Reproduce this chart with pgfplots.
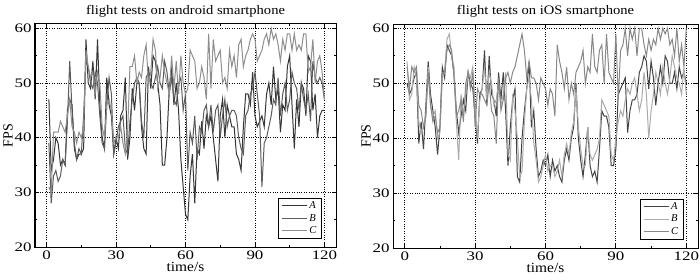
\documentclass[border=0pt]{standalone}
\usepackage{pgfplots}
\pgfplotsset{compat=1.18}
\usepackage{pgfplotstable}
\usepackage{graphicx}
\usepackage{fontspec}
\setmainfont{Liberation Serif}

\pgfplotstableread{
t A B C
1 47 39 31
2 34 28 30
3 36 33 41
4 40 34 41
5 39 32 41
6 35 33 43
7 36 36 42
8 35 35 41
9 45 43 44
10 47 54 47
11 46 45 42
12 38 39 41
13 36 36 39
14 37 38 41
15 37 37 40
16 38 44 42
17 58 54 56
18 50 53 53
19 49 50 51
20 54 49 52
21 47 52 48
22 58 50 52
23 46 44 50
24 40 39 42
25 38 38 40
26 51 46 46
27 46 51 47
28 44 48 45
29 37 37 39
30 40 39 40
31 38 42 40
32 44 43 42
33 45 44 39
34 51 38 37
35 36 37 41
36 40 43 53
37 49 47 53
38 45 50 55
39 50 51 50
40 50 50 52
41 42 43 51
42 38 40 55
43 37 51 57
44 53 52 50
45 49 50 52
46 55 49 58
47 54 51 56
48 50 53 49
49 46 50 51
50 35 49 55
51 35 54 52
52 40 52 50
53 49 48 48
54 53 51 55
55 46 47 49
56 50 46 54
57 45 50 48
58 36 51 55
59 31 45 50
60 26 48 48
61 25 34 49
62 33 41 56
63 37 39 55
64 28 44 54
65 38 36 49
66 37 42 50
67 43 41 53
68 38 45 51
69 44 46 47
70 42 42 59
71 44 46 49
72 40 41 58
73 36 45 54
74 32 46 55
75 44 40 56
76 47 44 50
77 40 47 51
78 46 42 49
79 44 44 56
80 42 45 53
81 42 45 55
82 37 44 51
83 36 40 57
84 34 38 58
85 42 37 53
86 48 44 55
87 48 45 56
88 46 48 58
89 52 49 59
90 44 52 58
91 42 48 54
92 43 44 55
93 44 31 56
94 42 39 58
95 48 40 59
96 50 42 57
97 46 44 60
98 53 47 58
99 47 46 59
100 49 51 57
101 41 44 54
102 46 48 58
103 45 50 56
104 53 45 59
105 55 47 59
106 46 52 56
107 38 50 59
108 47 49 56
109 42 45 57
110 50 50 56
111 49 47 59
112 44 45 59
113 55 48 52
114 54 43 53
115 45 54 58
116 48 51 50
117 40 50 54
118 44 51 55
119 45 50 52
120 45 47 47
}\androiddata

\pgfplotstableread{
t A B C
1 50 54 53
2 48 47 49
3 49 48 53
4 51 53 52
5 52 51 53
6 39 43 46
7 43 41 45
8 38 42 42
9 46 44 44
10 54 53 52
11 48 46 46
12 45 44 43
13 42 45 44
14 37 40 41
15 42 41 42
16 53 51 52
17 51 52 52
18 57 58 56
19 56 59 57
20 55 55 56
21 52 53 51
22 45 43 44
23 41 36 45
24 44 48 47
25 47 44 43
26 45 48 50
27 52 52 52
28 50 51 49
29 49 53 52
30 44 46 42
31 39 40 49
32 48 47 48
33 49 49 48
34 56 53 47
35 46 47 46
36 55 52 50
37 48 50 45
38 47 46 44
39 44 47 39
40 52 50 51
41 47 46 45
42 52 48 47
43 45 52 51
44 35 37 52
45 42 36 50
46 47 48 52
47 49 45 53
48 33 40 55
49 32 33 57
50 40 34 59
51 45 43 56
52 49 49 51
53 54 51 54
54 42 47 51
55 45 39 51
56 38 36 50
57 33 32 47
58 34 33 51
59 36 35 50
60 35 37 49
61 37 34 46
62 33 35 49
63 36 35 48
64 34 33 44
65 35 34 57
66 33 36 54
67 32 33 52
68 36 37 49
69 38 39 53
70 36 37 47
71 40 41 50
72 42 43 48
73 50 49 52
74 40 42 53
75 36 38 54
76 33 35 56
77 37 35 50
78 42 42 53
79 35 37 52
80 33 36 59
81 34 37 53
82 32 38 52
83 38 40 56
84 45 47 57
85 44 46 50
86 44 45 59
87 42 44 52
88 35 37 51
89 35 36 50
90 38 40 59
91 48 43 47
92 49 45 56
93 50 44 57
94 51 47 60
95 41 49 55
96 45 48 60
97 47 50 58
98 47 51 60
99 48 48 55
100 52 45 60
101 53 47 60
102 55 52 57
103 54 48 55
104 49 40 58
105 54 45 56
106 51 48 58
107 46 52 57
108 50 50 60
109 53 48 58
110 50 53 60
111 55 50 59
112 54 48 60
113 50 51 57
114 50 55 58
115 52 53 55
116 49 51 60
117 53 50 54
118 51 48 57
119 52 53 53
120 50 48 60
}\iosdata

\definecolor{lA}{HTML}{363636}
\definecolor{lB}{HTML}{5C5C5C}
\definecolor{lC}{HTML}{8E8E8E}
\definecolor{rA}{HTML}{444444}
\definecolor{rB}{HTML}{ABABAB}
\definecolor{rC}{HTML}{888888}

\pgfplotsset{
  panel/.style={
    scale only axis,
    width=301pt, height=223pt,
    xmin=-5, xmax=125, ymin=20, ymax=60.8,
    xtick={0,30,60,90,120}, ytick={20,30,40,50,60},
    minor x tick num=1, minor y tick num=1,
    tick align=inside, major tick length=4pt, minor tick length=2pt,
    xtick pos=both, ytick pos=both,
    grid=major, major grid style={black, dotted, line width=0.9pt},
    axis line style={black, line width=1pt},
    every tick/.style={black, line width=0.8pt},
    xticklabel={\scalebox{1.3}[1]{\pgfmathprintnumber[assume math mode=true]{\tick}}},
    yticklabel={\scalebox{1.3}[1]{\pgfmathprintnumber[assume math mode=true]{\tick}}},
    tick label style={font=\fontsize{13}{14}\selectfont},
    label style={font=\fontsize{14}{15}\selectfont},
    title style={font=\fontsize{13}{14}\selectfont, yshift=-3pt},
    xlabel={\scalebox{1.1}[1]{time/s}}, ylabel={FPS},
    xlabel style={yshift=4pt},
    ylabel style={yshift=-5pt},
    legend cell align=left,
    legend style={draw=black, line width=1pt, font=\fontsize{10.5}{11}\selectfont\itshape,
      at={(rel axis cs:0.953,0.036)}, anchor=south east,
      inner xsep=3pt, inner ysep=1.5pt, row sep=0pt},
    legend image code/.code={\draw[#1, line width=1pt] (0pt,0pt) -- (25pt,0pt);},
  }
}

\begin{document}
\begin{tikzpicture}
\useasboundingbox (0,0) rectangle (700pt,279pt);
\begin{axis}[panel, at={(35pt,32pt)}, anchor=south west,
  title={\scalebox{1.12}[1]{flight tests on android smartphone}}]
\addplot[lA, line width=1pt] table[x=t, y=A] {\androiddata};
\addplot[lB, line width=1pt] table[x=t, y=B] {\androiddata};
\addplot[lC, line width=1pt] table[x=t, y=C] {\androiddata};
\legend{A,B,C}
\end{axis}
\begin{axis}[panel, at={(393pt,31pt)}, anchor=south west, width=305pt, height=224pt,
  title={\scalebox{1.12}[1]{flight tests on iOS smartphone}}]
\addplot[rA, line width=1pt] table[x=t, y=A] {\iosdata};
\addplot[rB, line width=1pt] table[x=t, y=B] {\iosdata};
\addplot[rC, line width=1pt] table[x=t, y=C] {\iosdata};
\legend{A,B,C}
\end{axis}
\end{tikzpicture}
\end{document}
